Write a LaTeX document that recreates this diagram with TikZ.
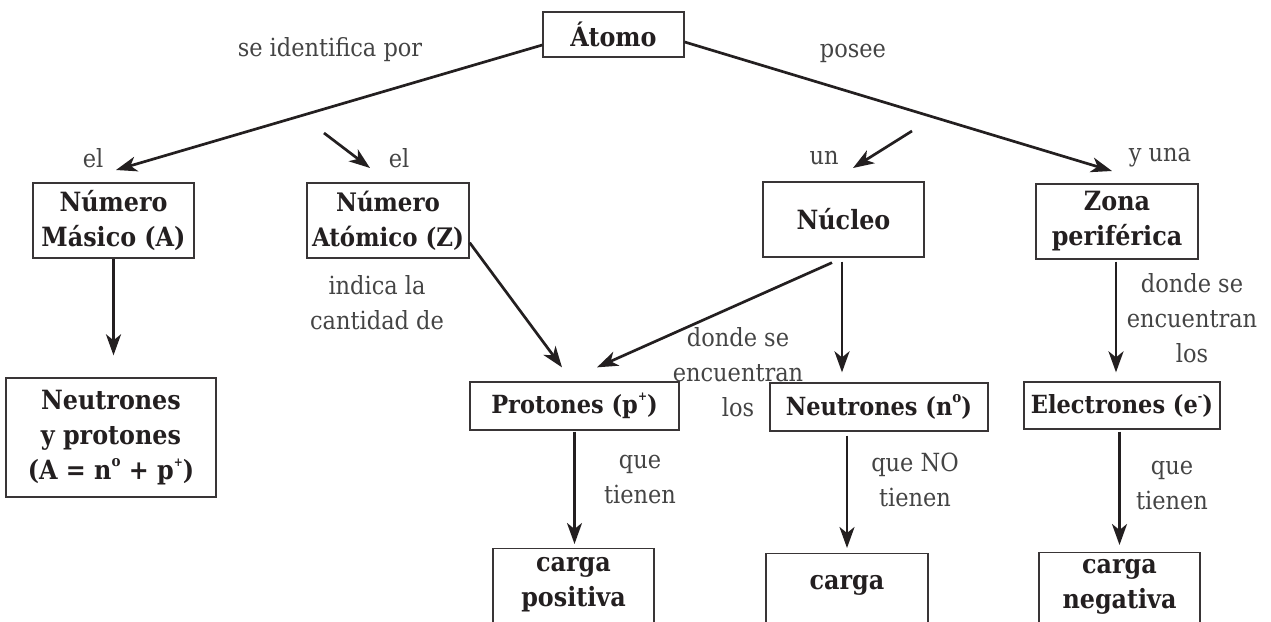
\documentclass[tikz,border=0pt]{standalone}
\usepackage{fontspec}
\setmainfont{DejaVu Serif Condensed}
\usetikzlibrary{arrows.meta,calc}
\definecolor{ink}{HTML}{231F20}
\definecolor{lblc}{HTML}{444444}
\newcommand\supx[2][12]{\raisebox{0.5em}{\fontsize{#1}{#1}\selectfont #2}}
\begin{document}
\begin{tikzpicture}[x=1pt,y=-1pt,
  box/.style={draw=ink!90, line width=1.3pt, text=ink, font=\fontsize{26.5}{35}\selectfont\bfseries, align=center, inner sep=0pt},
  rowbox/.style={box, font=\fontsize{25}{35}\selectfont\bfseries},
  boxtext/.style={anchor=center, text=ink, font=\fontsize{26.5}{35}\selectfont\bfseries, align=center, inner sep=0pt},
  lbl/.style={text=lblc, font=\fontsize{25}{35}\selectfont, align=center, inner sep=0pt},
  arr/.style={draw=ink, line width=2.7pt, -{Stealth[length=21pt,width=15pt,inset=6pt]}},
  ]
\useasboundingbox (0,0) rectangle (1271,621);
\clip (0,0) rectangle (1271,621);

% boxes
\node[box, minimum width=141pt, minimum height=45pt] (atomo) at (613.5,34.5) {Átomo};
\node[box, minimum width=161pt, minimum height=75pt] (nm) at (113.5,220.5) {Número\\Másico (A)};
\node[box, font=\fontsize{25.5}{35}\selectfont\bfseries, minimum width=162pt, minimum height=75pt] (na) at (388,220.5) {Número\\Atómico (Z)};
\node[box, minimum width=161pt, minimum height=75pt] (nucleo) at (843.5,219.5) {Núcleo};
\node[box, minimum width=162pt, minimum height=75pt] (zona) at (1117,221.5) {Zona\\periférica};
\node[box, minimum width=210pt, minimum height=119pt] (nyp) at (111,437.5) {Neutrones\\y protones\\(A = n\supx[15]{o} + p\supx{+})};
\node[rowbox, minimum width=209pt, minimum height=48pt] (prot) at (574.5,406) {Protones (p\supx{+})};
\node[rowbox, minimum width=218pt, minimum height=48pt] (neut) at (879,407) {Neutrones (n\supx[15]{o})};
\node[rowbox, minimum width=196pt, minimum height=47pt] (elec) at (1122,405.5) {Electrones (e\supx{-})};
\node[box, minimum width=161pt, minimum height=100pt, anchor=north,
      label={[boxtext, yshift=-37pt]north:{carga\\positiva}}] (cpos) at (573.5,548) {};
\node[box, minimum width=162pt, minimum height=100pt, anchor=north,
      label={[boxtext, yshift=-32pt]north:{carga}}] (carga) at (847,553) {};
\node[box, minimum width=161pt, minimum height=100pt, anchor=north,
      label={[boxtext, yshift=-34.5pt]north:{carga\\negativa}}] (cneg) at (1119.5,552) {};

% labels
\node[lbl] (sip) at (330,50) {se identifica por};
\node[lbl] (posee) at (853,53) {posee};
\node[lbl] (el1) at (93,158) {el};
\node[lbl] (el2) at (399,158) {el};
\node[lbl] (un) at (824,158) {un};
\node[lbl] (yuna) at (1160,158) {y una};
\node[lbl] (indica) at (377,302.5) {indica la\\cantidad de};
\node[lbl] (donde1) at (738,372) {donde se\\encuentran\\los};
\node[lbl] (donde2) at (1192,318) {donde se\\encuentran\\los};
\node[lbl] (que1) at (640,480) {que\\tienen};
\node[lbl] (queno) at (915,480) {que NO\\tienen};
\node[lbl] (que2) at (1172,486) {que\\tienen};

% free ends
\coordinate (t1) at (116,170);
\coordinate (t2) at (1112,171);
\coordinate (s3) at (324,133);
\coordinate (t3) at (370,168);
\coordinate (s4) at (912,131);
\coordinate (t4) at (853,168);

% connectors
\draw[arr] ($(atomo.west)+(0,10.5)$) -- (t1);
\draw[arr] ($(atomo.east)+(0,7.5)$) -- (t2);
\draw[arr] (s3) -- (t3);
\draw[arr] (s4) -- (t4);
\draw[arr, shorten >=22pt] (nm.south) -- (nm.south |- nyp.north);
\draw[arr] ($(na.south east)+(0,-16)$) -- ($(prot.north)+(-12.5,-14)$);
\draw[arr] ($(nucleo.south)+(-11.5,5)$) -- ($(prot.north)+(22.5,-14)$);
\draw[arr] ($(nucleo.south)+(-1.5,4)$) -- ($(nucleo.south |- neut.north)+(-1.5,-10)$);
\draw[arr] ($(zona.south)+(-1,2)$) -- ($(zona.south |- elec.north)+(-1,-9)$);
\draw[arr, shorten <=1pt, shorten >=4pt] (prot.south) -- (prot.south |- cpos.north);
\draw[arr, shorten <=4pt, shorten >=5pt] (carga.north |- neut.south) -- (carga.north);
\draw[arr, shorten <=2pt, shorten >=7pt] (cneg.north |- elec.south) -- (cneg.north);
\end{tikzpicture}
\end{document}
